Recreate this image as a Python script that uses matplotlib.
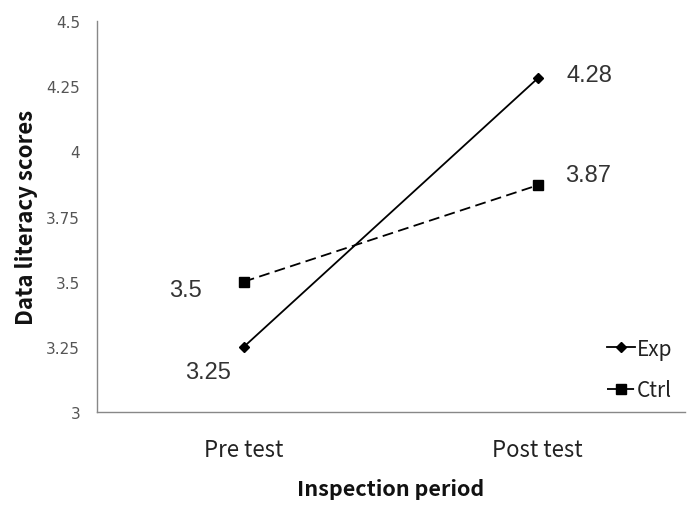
import matplotlib
matplotlib.use("Agg")
import matplotlib.pyplot as plt

categories = ["Pre test", "Post test"]
exp_values = [3.25, 4.28]
ctrl_values = [3.5, 3.87]
exp_labels = ["3.25", "4.28"]
ctrl_labels = ["3.5", "3.87"]
yticks = [3, 3.25, 3.5, 3.75, 4, 4.25, 4.5]
ytick_labels = ["3", "3.25", "3.5", "3.75", "4", "4.25", "4.5"]

KR = ['Noto Sans CJK KR', 'DejaVu Sans']
plt.rcParams['font.family'] = ['Liberation Sans', 'DejaVu Sans']

fig = plt.figure(figsize=(6.91, 5.10), dpi=100)
ax = fig.add_axes([0.140, 0.190, 0.851, 0.767])

x = list(range(len(categories)))
ax.plot(x, exp_values, color='black', linestyle='-', linewidth=1.3,
        marker='D', markersize=5, label='Exp')
ax.plot(x, ctrl_values, color='black', linestyle=(0, (6, 3)), linewidth=1.3,
        marker='s', markersize=7, label='Ctrl')

ax.set_xlim(-0.5, 1.5)
ax.set_ylim(3, 4.5)
ax.set_xticks(x)
ax.set_xticklabels(categories, fontsize=16, color='#222222', family=KR)
ax.set_yticks(yticks)
ax.set_yticklabels(ytick_labels, fontsize=11, color='#555555', family=['DejaVu Sans'])
ax.tick_params(axis='both', length=0)
ax.tick_params(axis='x', pad=19)
ax.tick_params(axis='y', pad=12)

for s in ['top', 'right']:
    ax.spines[s].set_visible(False)
for s in ['left', 'bottom']:
    ax.spines[s].set_color('#888888')
    ax.spines[s].set_linewidth(1.0)

# annotations
ann = dict(textcoords='offset points', fontsize=17, color='#333333', va='center')
ax.annotate(exp_labels[0], (x[0], exp_values[0]), xytext=(-9, -18), ha='right', **ann)
ax.annotate(exp_labels[1], (x[1], exp_values[1]), xytext=(21, 2.5), ha='left', **ann)
ax.annotate(ctrl_labels[0], (x[0], ctrl_values[0]), xytext=(-30, -6), ha='right', **ann)
ax.annotate(ctrl_labels[1], (x[1], ctrl_values[1]), xytext=(20, 7.5), ha='left', **ann)

ax.set_xlabel("Inspection period", fontsize=15.5, labelpad=12, color='#111111',
              family=KR, weight='bold')
ax.set_ylabel("Data literacy scores", fontsize=16, labelpad=6, color='#111111',
              family=KR, weight='bold')

leg = fig.legend(loc='upper left', bbox_to_anchor=(0.878, 0.336), frameon=False,
                 prop={'family': KR, 'size': 15}, handlelength=1.35, handletextpad=0.1,
                 labelspacing=0.95, borderaxespad=0, borderpad=0)
for t in leg.get_texts():
    t.set_color('#222222')

fig.savefig("out.png", dpi=100)
